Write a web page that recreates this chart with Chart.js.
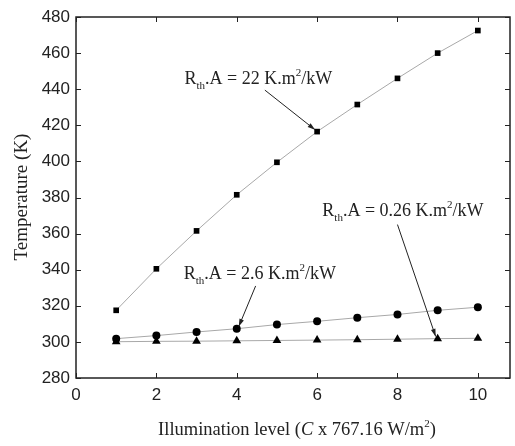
<!DOCTYPE html>
<html>
<head>
<meta charset="utf-8">
<script src="https://cdn.jsdelivr.net/npm/chart.js@4"></script>
<style>
  html, body { margin: 0; padding: 0; background: #fff; }
  #wrap { width: 515px; height: 446px; }
</style>
</head>
<body>
<div id="wrap"><canvas id="tempChart" width="515" height="446"></canvas></div>
<script>
// illumination level C (x 767.16 W/m2)
const levels = [1, 2, 3, 4, 5, 6, 7, 8, 9, 10];
// temperature (K) for each thermal resistance
const temp22 = [317.5, 340.5, 361.5, 381.5, 399.5, 416.5, 431.5, 446, 460, 472.5];
const temp26 = [301.8, 303.5, 305.5, 307.3, 309.6, 311.4, 313.4, 315.2, 317.5, 319.2];
const temp026 = [300.1, 300.3, 300.4, 300.6, 300.8, 301.0, 301.2, 301.5, 301.8, 302.0];
const xTicks = [0, 2, 4, 6, 8, 10];
const yTicks = [280, 300, 320, 340, 360, 380, 400, 420, 440, 460, 480];

// annotation labels: value text, label position, arrow from / to
const notes = [
    { val: "22", lx: 2.7, ly: 443, fx: 4.7, fy: 439.5, tx: 5.95, ty: 417.5 },
    { val: "0.26", lx: 6.13, ly: 369.5, fx: 8.0, fy: 365, tx: 8.95, ty: 303 },
    { val: "2.6", lx: 2.68, ly: 335, fx: 4.47, fy: 331, tx: 4.05, ty: 308.5 }
];

function pts(ys) {
    return levels.map((x, i) => ({ x: x, y: ys[i] }));
}

const serif = "'Liberation Serif', 'Times New Roman', serif";

function drawLabel(ctx, x, y, val) {
    const big = "18px " + serif;
    const small = "11px " + serif;
    ctx.textBaseline = "alphabetic";
    ctx.textAlign = "left";
    ctx.fillStyle = "#222";
    ctx.font = big;
    ctx.fillText("R", x, y); x += ctx.measureText("R").width;
    ctx.font = small;
    ctx.fillText("th", x, y + 5); x += ctx.measureText("th").width;
    ctx.font = big;
    let s = ".A = " + val + " K.m";
    ctx.fillText(s, x, y); x += ctx.measureText(s).width;
    ctx.font = small;
    ctx.fillText("2", x, y - 8); x += ctx.measureText("2").width;
    ctx.font = big;
    ctx.fillText("/kW", x, y);
}

function arrow(ctx, x1, y1, x2, y2) {
    ctx.strokeStyle = "#222";
    ctx.fillStyle = "#222";
    ctx.lineWidth = 1;
    ctx.beginPath();
    ctx.moveTo(x1, y1);
    ctx.lineTo(x2, y2);
    ctx.stroke();
    const a = Math.atan2(y2 - y1, x2 - x1);
    const len = 8, w = 0.3;
    ctx.beginPath();
    ctx.moveTo(x2, y2);
    ctx.lineTo(x2 - len * Math.cos(a - w), y2 - len * Math.sin(a - w));
    ctx.lineTo(x2 - len * Math.cos(a + w), y2 - len * Math.sin(a + w));
    ctx.closePath();
    ctx.fill();
}

const framePlugin = {
    id: "frame",
    afterDraw(chart) {
        const ctx = chart.ctx;
        const area = chart.chartArea;
        const xs = chart.scales.x, ys = chart.scales.y;
        ctx.save();
        ctx.strokeStyle = "#222";
        ctx.lineWidth = 1.5;
        ctx.strokeRect(area.left, area.top, area.right - area.left, area.bottom - area.top);
        ctx.lineWidth = 1;
        xTicks.forEach(v => {
            const px = Math.round(xs.getPixelForValue(v)) + 0.5;
            ctx.beginPath();
            ctx.moveTo(px, area.bottom); ctx.lineTo(px, area.bottom - 5);
            ctx.moveTo(px, area.top); ctx.lineTo(px, area.top + 5);
            ctx.stroke();
        });
        yTicks.forEach(v => {
            const py = Math.round(ys.getPixelForValue(v)) + 0.5;
            ctx.beginPath();
            ctx.moveTo(area.left, py); ctx.lineTo(area.left + 5, py);
            ctx.moveTo(area.right, py); ctx.lineTo(area.right - 5, py);
            ctx.stroke();
        });

        // annotations
        notes.forEach(n => {
            drawLabel(ctx, xs.getPixelForValue(n.lx), ys.getPixelForValue(n.ly), n.val);
            arrow(ctx, xs.getPixelForValue(n.fx), ys.getPixelForValue(n.fy),
                xs.getPixelForValue(n.tx), ys.getPixelForValue(n.ty));
        });

        // axis titles
        ctx.fillStyle = "#222";
        ctx.textBaseline = "alphabetic";
        const parts = [
            ["Illumination level (", "18.5px " + serif, 0],
            ["C", "italic 18.5px " + serif, 0],
            [" x 767.16 W/m", "18.5px " + serif, 0],
            ["2", "11px " + serif, -8],
            [")", "18.5px " + serif, 0]
        ];
        let total = 0;
        parts.forEach(p => { ctx.font = p[1]; total += ctx.measureText(p[0]).width; });
        let x = 297 - total / 2;
        const by = 435;
        parts.forEach(p => {
            ctx.font = p[1];
            ctx.textAlign = "left";
            ctx.fillText(p[0], x, by + p[2]);
            x += ctx.measureText(p[0]).width;
        });

        ctx.translate(27, 197);
        ctx.rotate(-Math.PI / 2);
        ctx.font = "19px " + serif;
        ctx.textAlign = "center";
        ctx.fillText("Temperature (K)", 0, 0);
        ctx.restore();
    }
};

const lineStyle = { borderColor: "#a8a8a8", borderWidth: 1, pointBackgroundColor: "#000", pointBorderColor: "#000", pointBorderWidth: 0, tension: 0 };

new Chart(document.getElementById("tempChart"), {
    type: "line",
    data: {
        datasets: [
            Object.assign({ label: "22 K.m2/kW", data: pts(temp22), pointStyle: "rect", pointRadius: 4 }, lineStyle),
            Object.assign({ label: "2.6 K.m2/kW", data: pts(temp26), pointStyle: "circle", pointRadius: 4 }, lineStyle),
            Object.assign({ label: "0.26 K.m2/kW", data: pts(temp026), pointStyle: "triangle", pointRadius: 5 }, lineStyle)
        ]
    },
    options: {
        responsive: false,
        animation: false,
        layout: { padding: { top: 17, right: 1, left: 0, bottom: 0 } },
        plugins: { legend: { display: false }, tooltip: { enabled: false } },
        scales: {
            x: {
                type: "linear",
                min: 0,
                max: 10.8,
                afterBuildTicks: s => { s.ticks = xTicks.map(v => ({ value: v })); },
                afterFit: s => { s.height = 68; },
                grid: { display: false, drawTicks: false },
                border: { display: false },
                ticks: { color: "#222", padding: 7, font: { family: "'Liberation Sans', Arial, sans-serif", size: 17 } }
            },
            y: {
                min: 280,
                max: 480,
                afterBuildTicks: s => { s.ticks = yTicks.map(v => ({ value: v })); },
                afterFit: s => { s.width = 76; },
                grid: { display: false, drawTicks: false },
                border: { display: false },
                ticks: { color: "#222", padding: 6, font: { family: "'Liberation Sans', Arial, sans-serif", size: 17 } }
            }
        }
    },
    plugins: [framePlugin]
});
</script>
</body>
</html>
